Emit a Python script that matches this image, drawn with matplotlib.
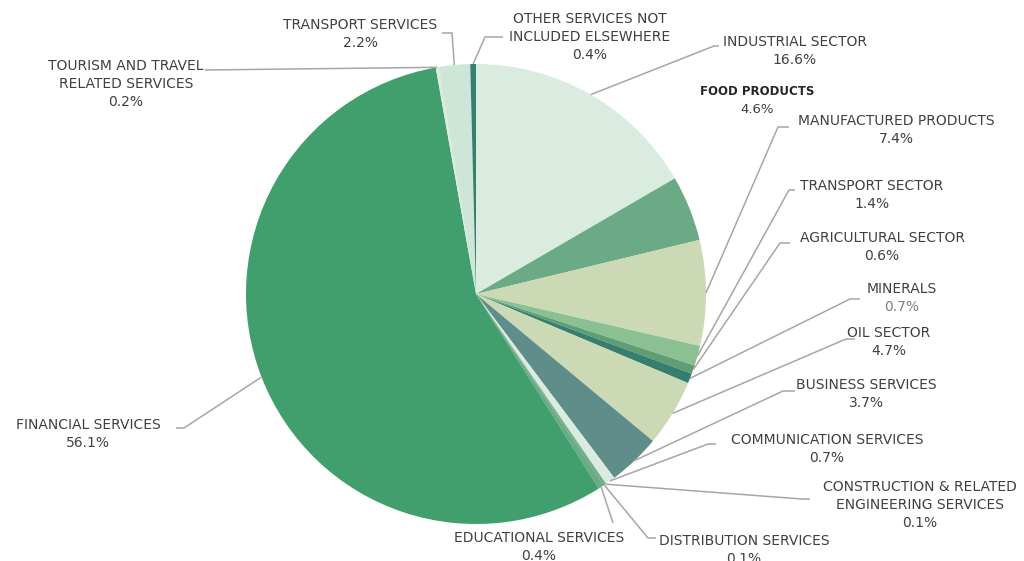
import numpy as np
import matplotlib
matplotlib.use("Agg")
import matplotlib.pyplot as plt

labels = ["INDUSTRIAL SECTOR", "FOOD PRODUCTS", "MANUFACTURED PRODUCTS",
          "TRANSPORT SECTOR", "AGRICULTURAL SECTOR", "MINERALS", "OIL SECTOR",
          "BUSINESS SERVICES", "COMMUNICATION SERVICES",
          "CONSTRUCTION & RELATED\nENGINEERING SERVICES", "DISTRIBUTION SERVICES",
          "EDUCATIONAL SERVICES", "FINANCIAL SERVICES",
          "TOURISM AND TRAVEL\nRELATED SERVICES", "TRANSPORT SERVICES",
          "OTHER SERVICES NOT\nINCLUDED ELSEWHERE"]
shares = [16.6, 4.6, 7.4, 1.4, 0.6, 0.7, 4.7, 3.7, 0.7, 0.1, 0.1, 0.4, 56.1, 0.2, 2.2, 0.4]
colors = ["#DAEBDF", "#6AAA85", "#CBDAB4", "#8BC093", "#5F9E74", "#367F6F",
          "#CBDAB4", "#5F8E8A", "#DAEBDF", "#6AAA85", "#5F9E74", "#6AAA85",
          "#419E6D", "#DAEBDF", "#CDE6D7", "#367F6F"]

W, H = 1024, 561

def P(x, y):
    # pixel (top-left origin) -> data coords
    return x, H - y

# label centre, then leader path (elbow, end) in pixels; None = no leader
label_pos = [(795, 51), (757, 100), (896, 130), (872, 195), (882, 247), (902, 298),
             (889, 342), (866, 394), (827, 449), (920, 505), (744, 550), (539, 547),
             (88, 434), (126, 84), (360, 34), (590, 37)]
leaders = [[(714, 46), (719, 46)], None, [(778, 127), (789, 127)],
           [(789, 190), (795, 190)], [(780, 243), (790, 243)],
           [(850, 299), (860, 299)], [(846, 339), (855, 339)],
           [(783, 391), (795, 391)], [(708, 444), (716, 444)],
           [(802, 499), (810, 499)], [(648, 538), (656, 538)],
           [(613, 523)], [(184, 428), (176, 428)], [(205, 70)],
           [(452, 33), (442, 33)], [(485, 37), (503, 37)]]

fig = plt.figure(figsize=(W / 100, H / 100), dpi=100)
ax = fig.add_axes([0, 0, 1, 1])

cx, cy = P(476, 294)
r = 230
wedges, _ = ax.pie(shares, colors=colors, startangle=90, counterclock=False,
                   center=(cx, cy), radius=r, wedgeprops=dict(linewidth=0),
                   frame=True)
ax.set_xlim(0, W)
ax.set_ylim(0, H)
ax.set_aspect("equal")
ax.axis("off")

txt = "#404040"
line_c = "#A6A6A6"
for i, w in enumerate(wedges):
    mid = np.deg2rad((w.theta1 + w.theta2) / 2)
    ax_, ay_ = cx + r * np.cos(mid), cy + r * np.sin(mid)
    if leaders[i] is not None:
        xs = [ax_] + [p[0] for p in leaders[i]]
        ys = [ay_] + [H - p[1] for p in leaders[i]]
        ax.plot(xs, ys, color=line_c, lw=1.1, solid_capstyle="butt")
    tx, ty = P(*label_pos[i])
    pct = f"{shares[i]:.1f}%"
    if labels[i] == "FOOD PRODUCTS":
        ax.text(tx, ty + 9, labels[i], ha="center", va="center",
                fontsize=8.5, color="#262626", fontweight="semibold")
        ax.text(tx, ty - 9, pct, ha="center", va="center", fontsize=9.5, color=txt)
    elif labels[i] == "MINERALS":
        ax.text(tx, ty + 9, labels[i], ha="center", va="center", fontsize=10, color=txt)
        ax.text(tx, ty - 9, pct, ha="center", va="center", fontsize=10, color="#808080")
    else:
        ax.text(tx, ty, labels[i] + "\n" + pct, ha="center", va="center",
                fontsize=10, color=txt, linespacing=1.32)

fig.savefig("out.png", dpi=100, facecolor="white")
